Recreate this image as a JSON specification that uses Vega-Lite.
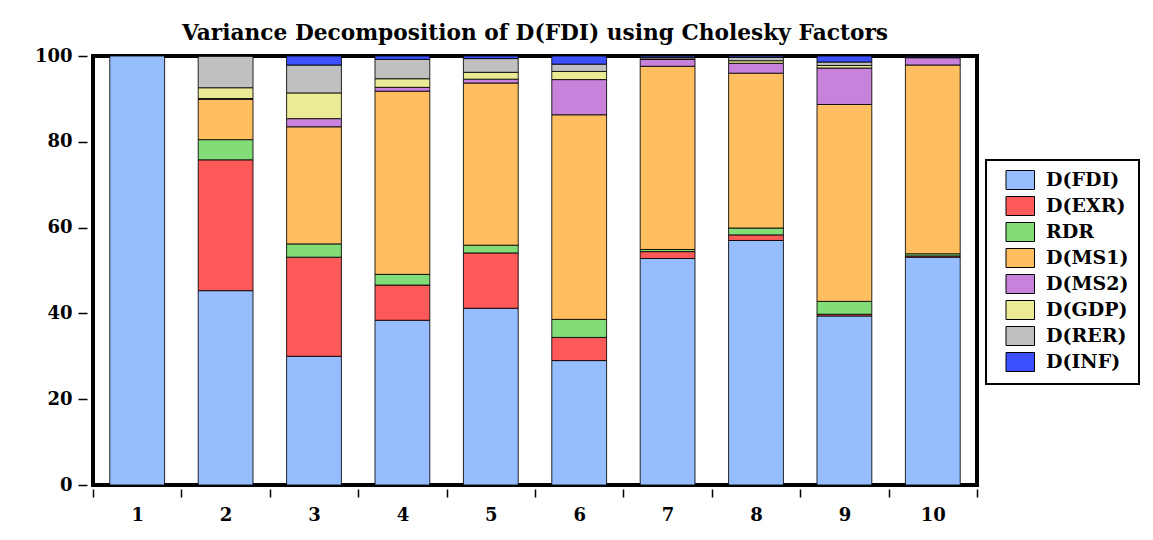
{
  "$schema": "https://vega.github.io/schema/vega-lite/v6.json",
  "autosize": "none",
  "padding": {"left": 93, "top": 56, "right": 176, "bottom": 55},
  "width": 884,
  "height": 429,
  "background": "white",
  "title": {
    "text": "Variance Decomposition of D(FDI) using Cholesky Factors",
    "font": "DejaVu Serif",
    "fontSize": 21.7,
    "fontWeight": "bold",
    "color": "black",
    "anchor": "middle",
    "offset": 2
  },
  "data": {
    "values": [
      {"h": 1, "s": "D(FDI)", "v": 100},
      {"h": 2, "s": "D(FDI)", "v": 45.3}, {"h": 2, "s": "D(EXR)", "v": 30.5}, {"h": 2, "s": "RDR", "v": 4.7}, {"h": 2, "s": "D(MS1)", "v": 9.4}, {"h": 2, "s": "D(MS2)", "v": 0.2}, {"h": 2, "s": "D(GDP)", "v": 2.5}, {"h": 2, "s": "D(RER)", "v": 7.4}, {"h": 2, "s": "D(INF)", "v": 0.0},
      {"h": 3, "s": "D(FDI)", "v": 30.0}, {"h": 3, "s": "D(EXR)", "v": 23.1}, {"h": 3, "s": "RDR", "v": 3.1}, {"h": 3, "s": "D(MS1)", "v": 27.3}, {"h": 3, "s": "D(MS2)", "v": 1.9}, {"h": 3, "s": "D(GDP)", "v": 6.0}, {"h": 3, "s": "D(RER)", "v": 6.5}, {"h": 3, "s": "D(INF)", "v": 2.1},
      {"h": 4, "s": "D(FDI)", "v": 38.4}, {"h": 4, "s": "D(EXR)", "v": 8.2}, {"h": 4, "s": "RDR", "v": 2.5}, {"h": 4, "s": "D(MS1)", "v": 42.7}, {"h": 4, "s": "D(MS2)", "v": 0.9}, {"h": 4, "s": "D(GDP)", "v": 2.0}, {"h": 4, "s": "D(RER)", "v": 4.5}, {"h": 4, "s": "D(INF)", "v": 0.8},
      {"h": 5, "s": "D(FDI)", "v": 41.2}, {"h": 5, "s": "D(EXR)", "v": 12.9}, {"h": 5, "s": "RDR", "v": 1.8}, {"h": 5, "s": "D(MS1)", "v": 37.8}, {"h": 5, "s": "D(MS2)", "v": 0.9}, {"h": 5, "s": "D(GDP)", "v": 1.6}, {"h": 5, "s": "D(RER)", "v": 3.2}, {"h": 5, "s": "D(INF)", "v": 0.6},
      {"h": 6, "s": "D(FDI)", "v": 29.0}, {"h": 6, "s": "D(EXR)", "v": 5.4}, {"h": 6, "s": "RDR", "v": 4.2}, {"h": 6, "s": "D(MS1)", "v": 47.7}, {"h": 6, "s": "D(MS2)", "v": 8.2}, {"h": 6, "s": "D(GDP)", "v": 1.9}, {"h": 6, "s": "D(RER)", "v": 1.7}, {"h": 6, "s": "D(INF)", "v": 1.9},
      {"h": 7, "s": "D(FDI)", "v": 52.8}, {"h": 7, "s": "D(EXR)", "v": 1.6}, {"h": 7, "s": "RDR", "v": 0.5}, {"h": 7, "s": "D(MS1)", "v": 42.7}, {"h": 7, "s": "D(MS2)", "v": 1.6}, {"h": 7, "s": "D(GDP)", "v": 0.1}, {"h": 7, "s": "D(RER)", "v": 0.4}, {"h": 7, "s": "D(INF)", "v": 0.3},
      {"h": 8, "s": "D(FDI)", "v": 57.0}, {"h": 8, "s": "D(EXR)", "v": 1.3}, {"h": 8, "s": "RDR", "v": 1.6}, {"h": 8, "s": "D(MS1)", "v": 36.1}, {"h": 8, "s": "D(MS2)", "v": 2.3}, {"h": 8, "s": "D(GDP)", "v": 0.6}, {"h": 8, "s": "D(RER)", "v": 0.8}, {"h": 8, "s": "D(INF)", "v": 0.3},
      {"h": 9, "s": "D(FDI)", "v": 39.4}, {"h": 9, "s": "D(EXR)", "v": 0.4}, {"h": 9, "s": "RDR", "v": 3.0}, {"h": 9, "s": "D(MS1)", "v": 45.9}, {"h": 9, "s": "D(MS2)", "v": 8.5}, {"h": 9, "s": "D(GDP)", "v": 0.6}, {"h": 9, "s": "D(RER)", "v": 0.8}, {"h": 9, "s": "D(INF)", "v": 1.4},
      {"h": 10, "s": "D(FDI)", "v": 53.1}, {"h": 10, "s": "D(EXR)", "v": 0.3}, {"h": 10, "s": "RDR", "v": 0.5}, {"h": 10, "s": "D(MS1)", "v": 44.0}, {"h": 10, "s": "D(MS2)", "v": 1.7}, {"h": 10, "s": "D(GDP)", "v": 0.1}, {"h": 10, "s": "D(RER)", "v": 0.1}, {"h": 10, "s": "D(INF)", "v": 0.2}
    ]
  },
  "transform": [
    {"calculate": "indexof(['D(FDI)','D(EXR)','RDR','D(MS1)','D(MS2)','D(GDP)','D(RER)','D(INF)'], datum.s)", "as": "o"}
  ],
  "mark": {"type": "bar", "stroke": "black", "strokeWidth": 1, "strokeOpacity": 0.85, "width": {"band": 0.62}},
  "encoding": {
    "x": {
      "field": "h",
      "type": "ordinal",
      "scale": {"paddingInner": 0, "paddingOuter": 0},
      "axis": {
        "title": null,
        "labelAngle": 0,
        "tickBand": "extent",
        "domain": false,
        "offset": 4,
        "tickSize": 8,
        "tickWidth": 1.5,
        "tickColor": "black",
        "labelPadding": 9,
        "labelFont": "DejaVu Serif",
        "labelFontSize": 18,
        "labelFontWeight": "bold",
        "labelColor": "black"
      }
    },
    "y": {
      "field": "v",
      "type": "quantitative",
      "stack": "zero",
      "scale": {"domain": [0, 100], "nice": false},
      "axis": {
        "title": null,
        "values": [0, 20, 40, 60, 80, 100],
        "grid": false,
        "domain": false,
        "offset": 6,
        "tickSize": 9,
        "tickWidth": 1.5,
        "tickColor": "black",
        "labelPadding": 6,
        "labelFont": "DejaVu Serif",
        "labelFontSize": 18,
        "labelFontWeight": "bold",
        "labelColor": "black"
      }
    },
    "color": {
      "field": "s",
      "type": "nominal",
      "scale": {
        "domain": ["D(FDI)", "D(EXR)", "RDR", "D(MS1)", "D(MS2)", "D(GDP)", "D(RER)", "D(INF)"],
        "range": ["#96BEFF", "#FF5A5A", "#82DC78", "#FFBE5F", "#C882DC", "#EBEB96", "#C0C0C0", "#3C50FF"]
      },
      "legend": {
        "title": null,
        "orient": "none",
        "legendX": 893,
        "legendY": 104,
        "symbolType": "M0,-1H3V1H0Z",
        "symbolSize": 361,
        "symbolStrokeColor": "black",
        "symbolStrokeWidth": 1,
        "symbolOpacity": 1,
        "labelFont": "DejaVu Serif",
        "labelFontSize": 19,
        "labelFontWeight": "bold",
        "labelColor": "black",
        "labelOffset": 30,
        "rowPadding": 2,
        "padding": 10,
        "strokeColor": "black",
        "fillColor": "white"
      }
    },
    "order": {"field": "o", "type": "quantitative"}
  },
  "config": {
    "view": {"stroke": "black", "strokeWidth": 4},
    "legend": {"strokeWidth": 2}
  }
}
